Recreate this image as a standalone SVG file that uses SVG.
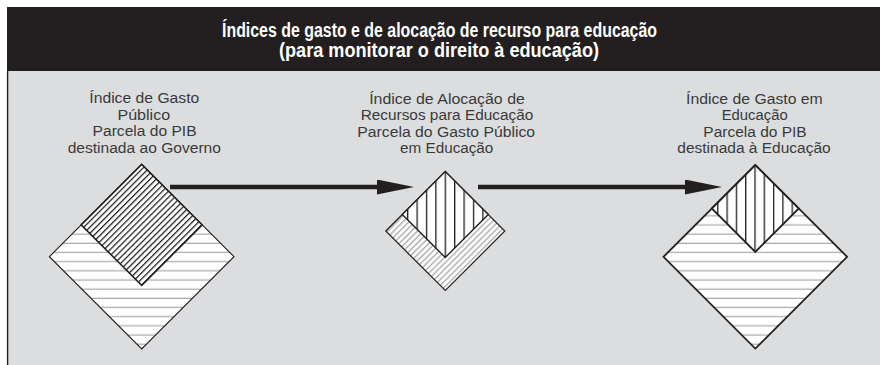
<svg xmlns="http://www.w3.org/2000/svg" width="880" height="365" viewBox="0 0 880 365">
<style>
.lbl{font-family:"Liberation Sans",Arial,sans-serif;font-size:15.5px;fill:#3a3a3a;text-anchor:middle}
.ttl{font-family:"Liberation Sans",Arial,sans-serif;font-weight:bold;font-size:20px;fill:#ffffff;text-anchor:middle}
.edge{stroke:#231f20;stroke-width:4.5;fill:none}
.ol{stroke:#231f20;fill:none;stroke-linejoin:miter}
</style>
<defs>
<pattern id="hH" patternUnits="userSpaceOnUse" x="0" y="0" width="10" height="9.17">
<rect x="0" y="4.3" width="10" height="1.2" fill="#a9a9a9"/>
</pattern>
<pattern id="dB" patternUnits="userSpaceOnUse" width="4.3" height="10" patternTransform="rotate(45)">
<rect x="0" y="0" width="1.25" height="10" fill="#231f20"/>
</pattern>
<pattern id="dG" patternUnits="userSpaceOnUse" width="4.2" height="10" patternTransform="rotate(45)">
<rect x="0" y="0" width="1.5" height="10" fill="#b3b3b3"/>
</pattern>
<pattern id="vB1" patternUnits="userSpaceOnUse" x="444.65" y="0" width="9.4" height="10">
<rect x="0" y="0" width="1.3" height="10" fill="#231f20"/>
</pattern>
<pattern id="vB2" patternUnits="userSpaceOnUse" x="754.35" y="0" width="9.3" height="10">
<rect x="0" y="0" width="1.3" height="10" fill="#231f20"/>
</pattern>
<marker id="ah" viewBox="0 0 37 15" markerWidth="37" markerHeight="15" refX="1" refY="7.5" orient="auto" markerUnits="userSpaceOnUse">
<path d="M0,0 L37,7.5 L0,15 Z" fill="#231f20"/>
</marker>
</defs>

<rect x="7" y="7" width="873" height="64" fill="#231f20"/>
<rect x="7" y="71" width="873" height="294" fill="#dcddde"/>
<line x1="7.6" y1="71" x2="7.6" y2="365" stroke="#231f20" stroke-width="1.4"/>

<g id="title">
<text class="ttl" x="439.5" y="36.5" textLength="435" lengthAdjust="spacingAndGlyphs">Índices de gasto e de alocação de recurso para educação</text>
<text class="ttl" x="439" y="56.7" textLength="320" lengthAdjust="spacingAndGlyphs">(para monitorar o direito à educação)</text>
</g>

<g id="gasto-publico">
<text class="lbl" x="144.3" y="103.3" textLength="110" lengthAdjust="spacingAndGlyphs">Índice de Gasto</text>
<text class="lbl" x="143.8" y="119.8" textLength="52.7" lengthAdjust="spacingAndGlyphs">Público</text>
<text class="lbl" x="144.6" y="136.4" textLength="104" lengthAdjust="spacingAndGlyphs">Parcela do PIB</text>
<text class="lbl" x="144.3" y="153" textLength="153.3" lengthAdjust="spacingAndGlyphs">destinada ao Governo</text>
<polygon points="49.4,256.7 141.7,164.4 234,256.7 141.7,349" fill="#ffffff"/>
<polygon points="49.4,256.7 141.7,164.4 234,256.7 141.7,349" class="ol" stroke-width="1.1" style="fill:url(#hH)"/>
<polygon points="81.2,224.9 141.7,164.4 202.2,224.9 141.7,285.4" fill="#ffffff"/>
<polygon points="81.2,224.9 141.7,164.4 202.2,224.9 141.7,285.4" class="ol" stroke-width="1.5" style="fill:url(#dB)"/>
</g>

<g id="alocacao-recursos">
<text class="lbl" x="447" y="103.5" textLength="155.7" lengthAdjust="spacingAndGlyphs">Índice de Alocação de</text>
<text class="lbl" x="447" y="120.2" textLength="172.7" lengthAdjust="spacingAndGlyphs">Recursos para Educação</text>
<text class="lbl" x="446.2" y="136.8" textLength="177.7" lengthAdjust="spacingAndGlyphs">Parcela do Gasto Público</text>
<text class="lbl" x="446.7" y="153.3" textLength="93.3" lengthAdjust="spacingAndGlyphs">em Educação</text>
<polygon points="385.8,231 445.3,171.5 504.8,231 445.3,290.5" fill="#ffffff"/>
<polygon points="385.8,231 445.3,171.5 504.8,231 445.3,290.5" class="ol" stroke-width="1.2" style="fill:url(#dG)"/>
<polygon points="402.3,214.5 445.3,171.5 488.3,214.5 445.3,257.5" fill="#ffffff"/>
<polygon points="402.3,214.5 445.3,171.5 488.3,214.5 445.3,257.5" class="ol" stroke-width="1.4" style="fill:url(#vB1)"/>
</g>

<g id="gasto-educacao">
<text class="lbl" x="754.4" y="103.8" textLength="136.7" lengthAdjust="spacingAndGlyphs">Índice de Gasto em</text>
<text class="lbl" x="754.7" y="120.3" textLength="66" lengthAdjust="spacingAndGlyphs">Educação</text>
<text class="lbl" x="755" y="136.8" textLength="103.3" lengthAdjust="spacingAndGlyphs">Parcela do PIB</text>
<text class="lbl" x="754" y="153.3" textLength="153.3" lengthAdjust="spacingAndGlyphs">destinada à Educação</text>
<polygon points="663.5,256.8 755.3,165 847.1,256.8 755.3,348.6" fill="#ffffff"/>
<polygon points="663.5,256.8 755.3,165 847.1,256.8 755.3,348.6" class="ol" stroke-width="1.8" style="fill:url(#hH)"/>
<polygon points="711.8,208.5 755.3,165 798.8,208.5 755.3,252" fill="#ffffff"/>
<polygon points="711.8,208.5 755.3,165 798.8,208.5 755.3,252" class="ol" stroke-width="1.8" style="fill:url(#vB2)"/>
</g>

<g id="connectors">
<line class="edge" x1="170" y1="187" x2="378" y2="187" marker-end="url(#ah)"/>
<line class="edge" x1="478" y1="187" x2="686" y2="187" marker-end="url(#ah)"/>
</g>
</svg>
